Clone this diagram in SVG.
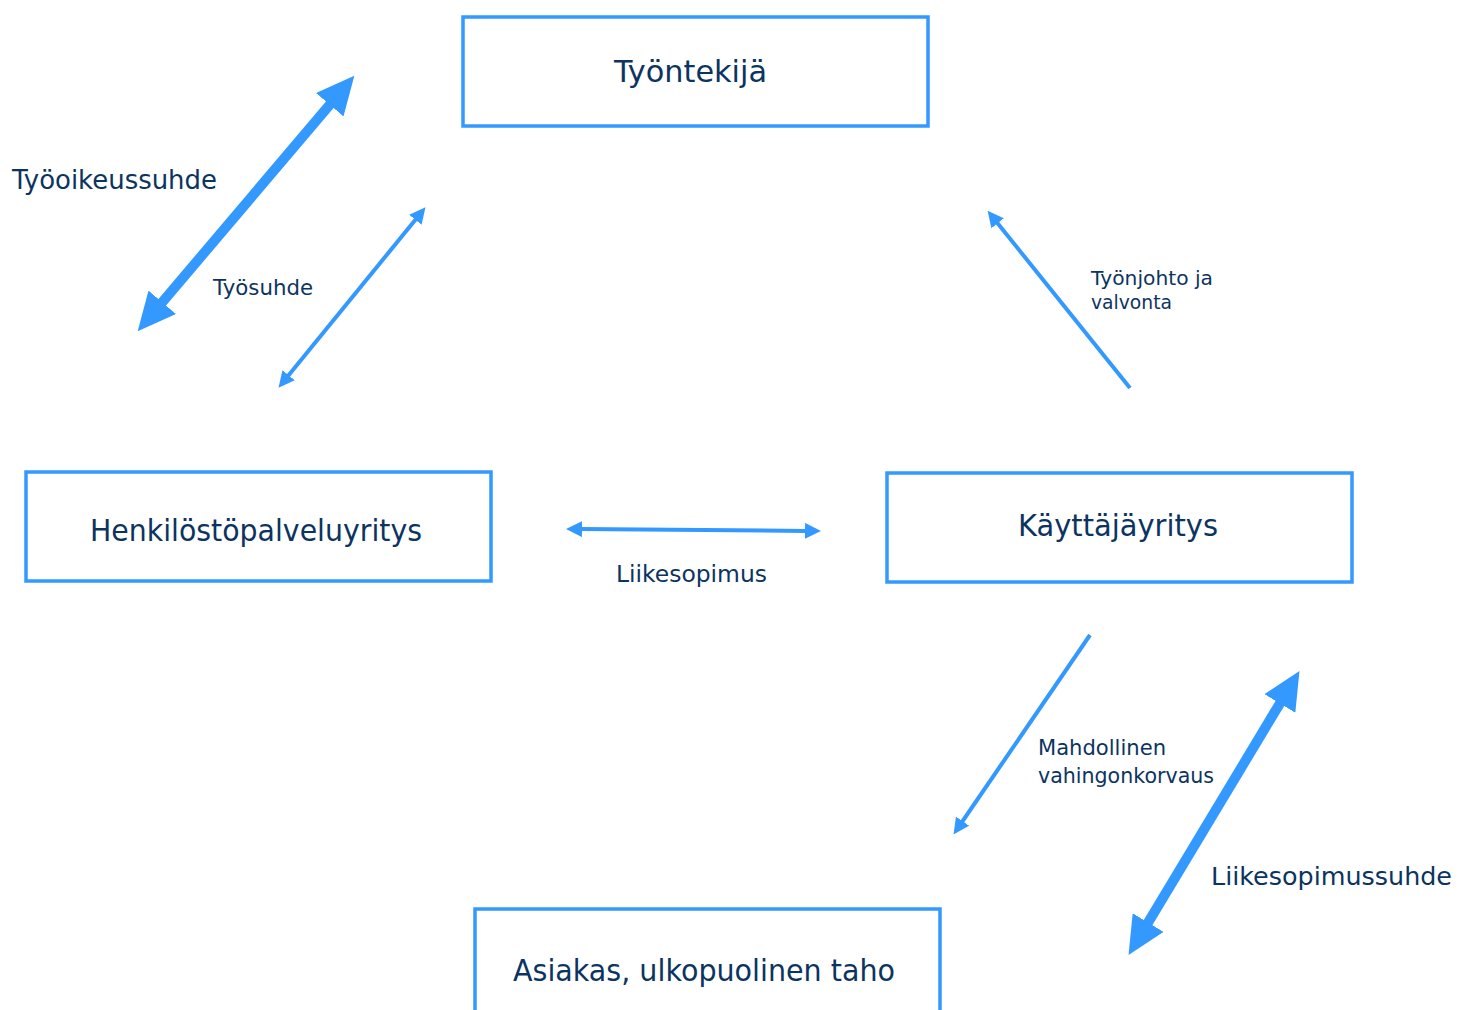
<svg xmlns="http://www.w3.org/2000/svg" width="1460" height="1010" viewBox="0 0 1460 1010">
<style>
.box{fill:#fff;stroke:#3399ff;stroke-width:3.5}
.t{font-family:"DejaVu Sans","Liberation Sans",sans-serif;fill:#0c3461}
.c{fill:none;stroke:#3399ff}
.thick{stroke-width:10}
.thin{stroke-width:4}
</style>
<defs>
<marker id="hBig" markerUnits="userSpaceOnUse" viewBox="0 -18 38 36" markerWidth="38" markerHeight="36" refX="1" refY="0" orient="auto-start-reverse"><path d="M0,-18 L38,0 L0,18 Z" fill="#3399ff"/></marker>
<marker id="hSmall" markerUnits="userSpaceOnUse" viewBox="0 -8 16 16" markerWidth="16" markerHeight="16" refX="1" refY="0" orient="auto-start-reverse"><path d="M0,-8 L16,0 L0,8 Z" fill="#3399ff"/></marker>
</defs>
<g id="n-tyontekija"><rect class="box" x="463" y="17" width="465" height="109"/><text class="t" x="614" y="82" font-size="30" textLength="153" lengthAdjust="spacingAndGlyphs">Työntekijä</text></g>
<g id="n-henkilosto"><rect class="box" x="26" y="472" width="465" height="109"/><text class="t" x="90" y="541" font-size="30" textLength="332" lengthAdjust="spacingAndGlyphs">Henkilöstöpalveluyritys</text></g>
<g id="n-kayttaja"><rect class="box" x="887" y="473" width="465" height="109"/><text class="t" x="1018" y="536" font-size="30" textLength="200" lengthAdjust="spacingAndGlyphs">Käyttäjäyritys</text></g>
<g id="n-asiakas"><rect class="box" x="475" y="909" width="465" height="120"/><text class="t" x="513" y="981" font-size="30" textLength="382" lengthAdjust="spacingAndGlyphs">Asiakas, ulkopuolinen taho</text></g>
<g id="connectors">
<path class="c thick" d="M161.6,303 L330.4,104" marker-start="url(#hBig)" marker-end="url(#hBig)"/>
<path class="c thin" d="M288,376 L416,219" marker-start="url(#hSmall)" marker-end="url(#hSmall)"/>
<path class="c thin" d="M1130,388 L997,222.5" marker-end="url(#hSmall)"/>
<path class="c thin" d="M581,529.1 L806,530.9" marker-start="url(#hSmall)" marker-end="url(#hSmall)" stroke-width="5"/>
<path class="c thin" d="M1090,635 L962,822" marker-end="url(#hSmall)"/>
<path class="c thick" d="M1280.4,702.6 L1147.6,923.4" marker-start="url(#hBig)" marker-end="url(#hBig)"/>
</g>
<g id="labels">
<text class="t" x="12" y="189" font-size="26" textLength="205" lengthAdjust="spacingAndGlyphs">Työoikeussuhde</text>
<text class="t" x="213" y="295" font-size="21" textLength="100" lengthAdjust="spacingAndGlyphs">Työsuhde</text>
<text class="t" x="1091" y="285" font-size="20" textLength="122" lengthAdjust="spacingAndGlyphs">Työnjohto ja</text>
<text class="t" x="1091" y="309" font-size="20" textLength="81" lengthAdjust="spacingAndGlyphs">valvonta</text>
<text class="t" x="616" y="582" font-size="23" textLength="151" lengthAdjust="spacingAndGlyphs">Liikesopimus</text>
<text class="t" x="1038" y="755" font-size="21" textLength="128" lengthAdjust="spacingAndGlyphs">Mahdollinen</text>
<text class="t" x="1038" y="783" font-size="21" textLength="176" lengthAdjust="spacingAndGlyphs">vahingonkorvaus</text>
<text class="t" x="1211" y="885" font-size="24.5" textLength="241" lengthAdjust="spacingAndGlyphs">Liikesopimussuhde</text>
</g>
</svg>
